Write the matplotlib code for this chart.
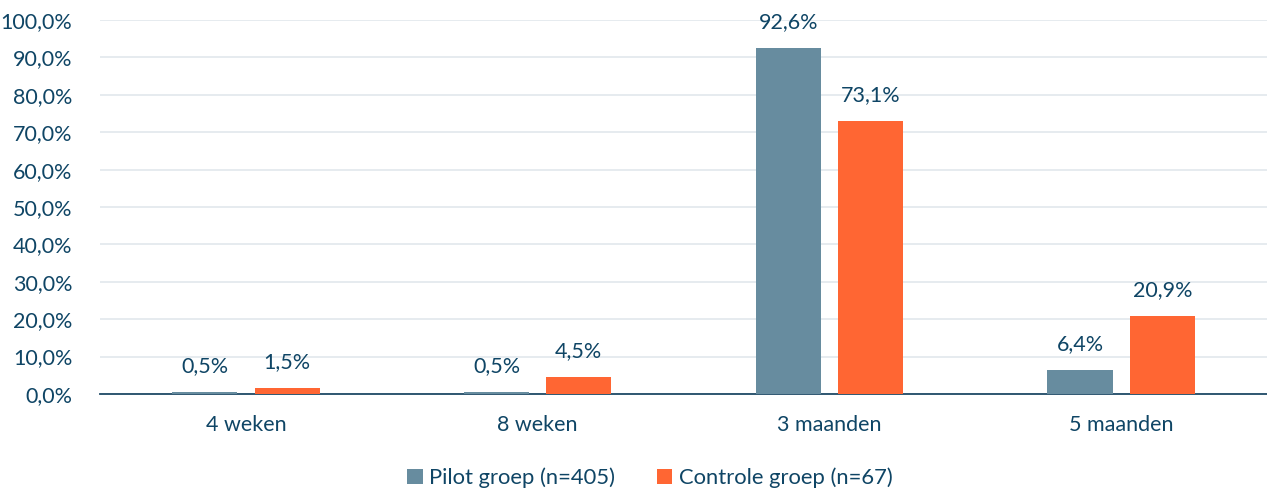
import numpy as np
import matplotlib.pyplot as plt
from matplotlib.ticker import FuncFormatter

plt.rcParams['font.family'] = ['Lato', 'DejaVu Sans']

# Data
categories = ['4 weken', '8 weken', '3 maanden', '5 maanden']
pilot = [0.5, 0.5, 92.6, 6.4]
controle = [1.5, 4.5, 73.1, 20.9]
series_names = ['Pilot groep (n=405)', 'Controle groep (n=67)']

text_col = '#0F4565'
pilot_col = '#678C9F'
ctrl_col = '#FF6633'

fig = plt.figure(figsize=(12.67, 4.9), dpi=100)
ax = fig.add_axes([0.079, 0.196, 0.921, 0.763])

x = np.arange(len(categories))
w = 0.223
off = 0.141
b1 = ax.bar(x - off, pilot, w, color=pilot_col, label=series_names[0], zorder=3)
b2 = ax.bar(x + off, controle, w, color=ctrl_col, label=series_names[1], zorder=3)

# value labels
for bars, vals in [(b1, pilot), (b2, controle)]:
    for rect, v in zip(bars, vals):
        ax.annotate(('%.1f%%' % v).replace('.', ','),
                    (rect.get_x() + rect.get_width() / 2, rect.get_height()),
                    xytext=(0, 26), textcoords='offset pixels',
                    ha='center', va='center', fontsize=15.5, color=text_col)

ax.set_xlim(-0.5, len(categories) - 0.5)
ax.set_ylim(0, 100)
ax.set_yticks(np.arange(0, 101, 10))
ax.yaxis.set_major_formatter(FuncFormatter(lambda v, p: ('%.1f%%' % v).replace('.', ',')))
ax.set_xticks(x)
ax.set_xticklabels(categories)

ax.grid(axis='y', color='#E1E7EC', linewidth=1.2, zorder=0)
for s in ['top', 'right', 'left']:
    ax.spines[s].set_visible(False)
ax.spines['bottom'].set_color('#1F4A66')
ax.spines['bottom'].set_linewidth(1.3)
ax.tick_params(axis='both', length=0, labelsize=15.5, labelcolor=text_col)
ax.tick_params(axis='y', pad=20)
ax.tick_params(axis='x', pad=15)

fig.legend(loc='center', bbox_to_anchor=(0.513, 0.025), ncol=2, frameon=False,
           fontsize=15.8, labelcolor=text_col, handlelength=0.7, handleheight=0.7,
           handletextpad=0.3, columnspacing=1.9)

fig.savefig('out.png', dpi=100)
